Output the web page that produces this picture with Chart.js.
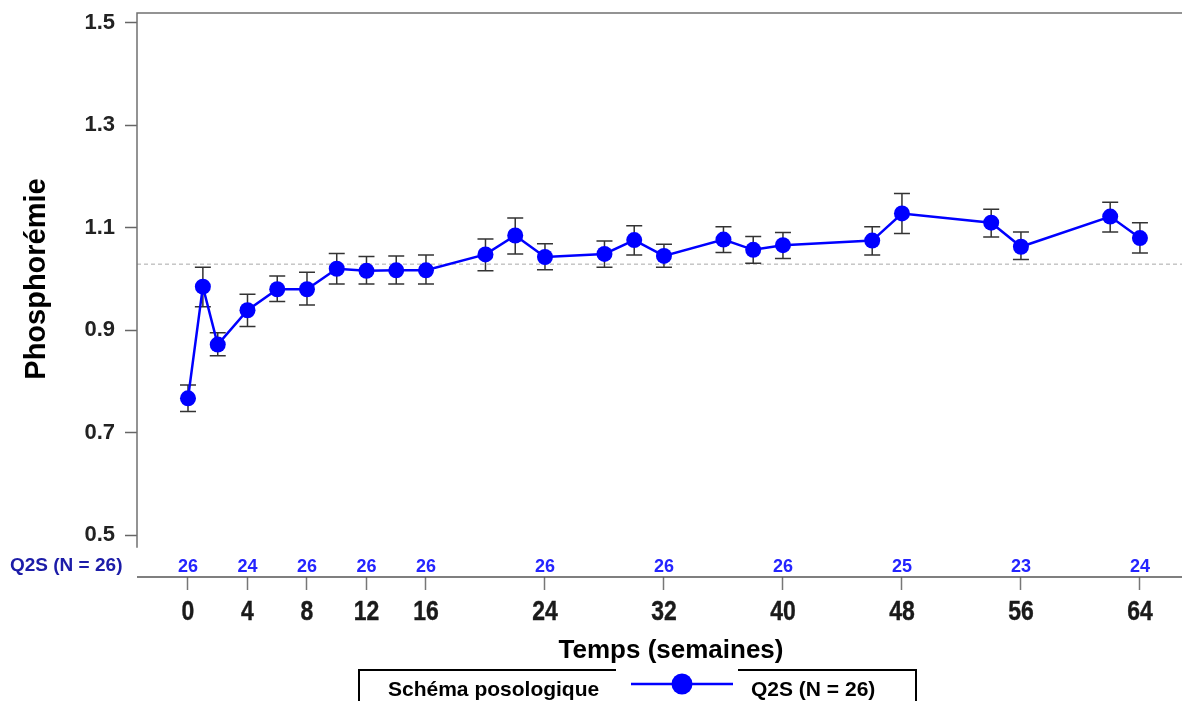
<!DOCTYPE html>
<html>
<head>
<meta charset="utf-8">
<script src="https://cdn.jsdelivr.net/npm/chart.js@4.4.1/dist/chart.umd.min.js"></script>
<style>
  body { margin: 0; background: #fff; }
  #wrap { width: 1182px; height: 701px; position: relative; }
</style>
</head>
<body>
<div id="wrap"><canvas id="myChart"></canvas></div>
<script>
const ctx = document.querySelector("#myChart");

// semaines de visite
const weeks = [0, 1, 2, 4, 6, 8, 10, 12, 14, 16, 20, 22, 24, 28, 30, 32, 36, 38, 40, 46, 48, 54, 56, 62, 64];
// moyenne et barres d'erreur
const means = [0.767, 0.985, 0.872, 0.939, 0.980, 0.980, 1.020, 1.016, 1.017, 1.017, 1.048, 1.085, 1.043, 1.049, 1.076, 1.045, 1.077, 1.057, 1.066, 1.075, 1.128, 1.110, 1.063, 1.122, 1.080];
const upper = [0.793, 1.023, 0.895, 0.970, 1.006, 1.013, 1.050, 1.044, 1.045, 1.047, 1.078, 1.119, 1.069, 1.074, 1.104, 1.068, 1.102, 1.083, 1.091, 1.102, 1.167, 1.136, 1.092, 1.150, 1.110];
const lower = [0.741, 0.946, 0.850, 0.907, 0.956, 0.949, 0.990, 0.990, 0.990, 0.990, 1.016, 1.049, 1.018, 1.023, 1.047, 1.023, 1.052, 1.031, 1.040, 1.047, 1.089, 1.082, 1.038, 1.092, 1.051];

// patients a risque
const nWeeks = [0, 4, 8, 12, 16, 24, 32, 40, 48, 56, 64];
const nCounts = [26, 24, 26, 26, 26, 26, 26, 26, 25, 23, 24];

const xTicks = [0, 4, 8, 12, 16, 24, 32, 40, 48, 56, 64];
const yTicks = [0.5, 0.7, 0.9, 1.1, 1.3, 1.5];
const refLine = 1.029;

const seriesLabel = "Q2S (N = 26)";
const legendTitle = "Schéma posologique";
const xTitle = "Temps (semaines)";
const yTitle = "Phosphorémie";

const sans = "'Liberation Sans', Arial, sans-serif";

// pas de marge automatique autour des axes
function noPad(s) {
  s.paddingTop = 0; s.paddingBottom = 0;
  s.paddingLeft = 0; s.paddingRight = 0;
}

const extras = {
  id: "extras",
  beforeDatasetsDraw(chart) {
    const c = chart.ctx;
    const x = chart.scales.x, y = chart.scales.y;
    const area = chart.chartArea;
    c.save();
    // ligne de reference
    c.strokeStyle = "#a8a8a8";
    c.lineWidth = 1;
    c.setLineDash([4, 3]);
    c.beginPath();
    c.moveTo(area.left, y.getPixelForValue(refLine));
    c.lineTo(chart.width, y.getPixelForValue(refLine));
    c.stroke();
    c.setLineDash([]);
    // barres d'erreur
    c.strokeStyle = "#333";
    c.lineWidth = 1.5;
    weeks.forEach((w, i) => {
      const px = x.getPixelForValue(w);
      const yt = y.getPixelForValue(upper[i]);
      const yb = y.getPixelForValue(lower[i]);
      c.beginPath();
      c.moveTo(px, yt); c.lineTo(px, yb);
      c.moveTo(px - 8, yt); c.lineTo(px + 8, yt);
      c.moveTo(px - 8, yb); c.lineTo(px + 8, yb);
      c.stroke();
    });
    c.restore();
  },
  afterDraw(chart) {
    const c = chart.ctx;
    const x = chart.scales.x, y = chart.scales.y;
    const area = chart.chartArea;
    c.save();
    // cadre
    c.strokeStyle = "#707070";
    c.lineWidth = 1.5;
    c.beginPath();
    c.moveTo(area.left, y.getPixelForValue(0.475));
    c.lineTo(area.left, area.top);
    c.lineTo(chart.width, area.top);
    c.stroke();
    // axe du bas jusqu'au bord
    c.strokeStyle = "#555";
    c.beginPath();
    c.moveTo(area.left, area.bottom);
    c.lineTo(chart.width, area.bottom);
    c.stroke();

    // etiquettes de l'axe x (police etroite)
    c.fillStyle = "#1a1a1a";
    c.strokeStyle = "#1a1a1a";
    c.lineWidth = 0.4;
    c.font = "bold 28px " + sans;
    c.textAlign = "center";
    c.textBaseline = "middle";
    xTicks.forEach((v) => {
      c.save();
      c.translate(x.getPixelForValue(v), 612);
      c.scale(0.82, 1);
      c.fillText(String(v), 0, 0);
      c.strokeText(String(v), 0, 0);
      c.restore();
    });

    // effectifs
    c.font = "bold 18px " + sans;
    c.fillStyle = "#2424ff";
    nWeeks.forEach((w, i) => {
      c.fillText(String(nCounts[i]), x.getPixelForValue(w), 567);
    });
    c.fillStyle = "#1c1ca8";
    c.font = "bold 19px " + sans;
    c.textAlign = "left";
    c.fillText(seriesLabel, 10, 566);

    // titres des axes
    c.fillStyle = "#000";
    c.font = "bold 26px " + sans;
    c.textAlign = "center";
    c.fillText(xTitle, 671, 651);
    c.save();
    c.translate(37, 279);
    c.rotate(-Math.PI / 2);
    c.font = "bold 29px " + sans;
    c.fillText(yTitle, 0, 0);
    c.restore();

    // legende
    c.strokeStyle = "#000";
    c.lineWidth = 2;
    c.strokeRect(359, 670, 557, 60);
    c.fillStyle = "#fff";
    c.fillRect(616, 667, 122, 6);
    c.fillStyle = "#000";
    c.font = "bold 21px " + sans;
    c.textAlign = "left";
    c.fillText(legendTitle, 388, 690);
    c.fillText(seriesLabel, 751, 690);
    c.strokeStyle = "#0000ff";
    c.lineWidth = 2.5;
    c.beginPath();
    c.moveTo(631, 684); c.lineTo(733, 684);
    c.stroke();
    c.fillStyle = "#0000ff";
    c.beginPath();
    c.arc(682, 684, 10.5, 0, Math.PI * 2);
    c.fill();
    c.restore();
  }
};

const data = {
  datasets: [
    {
      label: seriesLabel,
      data: weeks.map((w, i) => ({ x: w, y: means[i] })),
      borderColor: "#0000ff",
      backgroundColor: "#0000ff",
      borderWidth: 2.5,
      pointRadius: 8,
      pointBorderWidth: 0,
      pointHoverRadius: 8,
      tension: 0,
    },
  ],
};

const config = {
  type: "line",
  data: data,
  options: {
    responsive: true,
    maintainAspectRatio: false,
    animation: false,
    layout: { padding: { top: 13, right: 0, left: 0, bottom: 0 } },
    plugins: {
      legend: { display: false },
      tooltip: { enabled: false },
    },
    scales: {
      x: {
        type: "linear",
        min: -3.4286,
        max: 66.29,
        afterBuildTicks: (s) => { s.ticks = xTicks.map((v) => ({ value: v })); },
        afterFit: (s) => { s.height = 124; noPad(s); },
        border: { display: false },
        grid: { drawOnChartArea: false, tickLength: 13, tickColor: "#777", tickWidth: 1.5 },
        ticks: { display: false },
      },
      y: {
        min: 0.41797,
        max: 1.51953,
        afterBuildTicks: (s) => { s.ticks = yTicks.map((v) => ({ value: v })); },
        afterFit: (s) => { s.width = 137; noPad(s); },
        border: { display: false },
        grid: { drawOnChartArea: false, tickLength: 12, tickColor: "#666", tickWidth: 1.5 },
        ticks: {
          padding: 10,
          color: "#222",
          font: { family: sans, size: 22, weight: "bold" },
          callback: (v) => Number(v).toFixed(1),
        },
      },
    },
  },
  plugins: [extras],
};

const myChart = new Chart(ctx, config);
</script>
</body>
</html>
